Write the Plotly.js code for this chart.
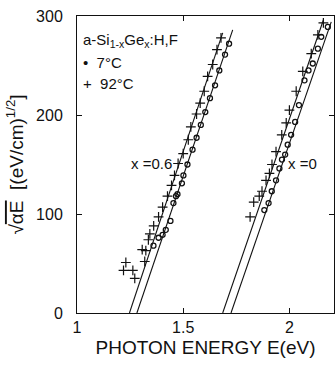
<!DOCTYPE html>
<html>
<head>
<meta charset="utf-8">
<script src="https://cdn.plot.ly/plotly-3.0.1.min.js"></script>
<style>html,body{margin:0;padding:0;background:#fff;}#chart{width:335px;height:366px;}</style>
</head>
<body>
<div id="chart"></div>
<script>
// x = 0.6, 7°C (circles)
const e06_7 = [1.360, 1.384, 1.403, 1.418, 1.440, 1.454, 1.466, 1.473, 1.494, 1.501, 1.520, 1.544, 1.563, 1.583, 1.604, 1.626, 1.650, 1.670, 1.697, 1.716];
const y06_7 = [68, 76, 79, 84, 93, 111, 118, 120, 131, 139, 150, 165, 177, 190, 203, 217, 230, 245, 261, 272];
// x = 0.6, 92°C (crosses)
const e06_92 = [1.219, 1.230, 1.263, 1.272, 1.307, 1.319, 1.324, 1.336, 1.343, 1.361, 1.384, 1.403, 1.426, 1.445, 1.459, 1.476, 1.500, 1.524, 1.536, 1.563, 1.580, 1.599, 1.615, 1.639, 1.659, 1.678];
const y06_92 = [43, 51, 43, 35, 64, 52, 63, 74, 80, 88, 97, 107, 118, 129, 139, 151, 161, 175, 188, 201, 212, 224, 239, 251, 266, 278];
// x = 0, 7°C (circles)
const e0_7 = [1.882, 1.902, 1.917, 1.937, 1.953, 1.965, 1.980, 1.992, 2.008, 2.027, 2.045, 2.071, 2.090, 2.110, 2.134, 2.150, 2.181];
const y0_7 = [104, 111, 123, 134, 146, 155, 160, 170, 180, 193, 210, 235, 245, 252, 267, 279, 289];
// x = 0, 92°C (crosses)
const e0_92 = [1.815, 1.832, 1.858, 1.871, 1.890, 1.906, 1.918, 1.937, 1.964, 1.985, 2.000, 2.032, 2.063, 2.103, 2.134, 2.160];
const y0_92 = [97, 112, 118, 123, 134, 141, 150, 163, 180, 192, 205, 224, 244, 262, 281, 293];
// linear fits (end points)
const fit06_92E = [1.247, 1.686], fit06_92Y = [0, 283];
const fit06_7E = [1.282, 1.733], fit06_7Y = [0, 286];
const fit0_92E = [1.686, 2.160], fit0_92Y = [0, 296];
const fit0_7E = [1.725, 2.197], fit0_7Y = [0, 294];
// ticks
const xTickVals = [1, 1.5, 2];
const xTickText = ['1', '1.5', '2'];
const yTickVals = [0, 100, 200, 300];
const yTickText = ['0', '100', '200', '300'];

const FONT = 'Liberation Sans, Arial, sans-serif';
const circ = {symbol: 'circle-open', size: 5, color: '#111', line: {width: 1.3, color: '#111'}};
const crs = {symbol: 'cross-thin-open', size: 7, color: '#111', line: {width: 1.2, color: '#111'}};
const ln = {color: '#111', width: 1.1};

const traces = [
  {x: fit06_92E, y: fit06_92Y, mode: 'lines', line: ln},
  {x: fit06_7E, y: fit06_7Y, mode: 'lines', line: ln},
  {x: fit0_92E, y: fit0_92Y, mode: 'lines', line: ln},
  {x: fit0_7E, y: fit0_7Y, mode: 'lines', line: ln},
  {x: e06_7, y: y06_7, mode: 'markers', marker: circ},
  {x: e06_92, y: y06_92, mode: 'markers', marker: crs},
  {x: e0_7, y: y0_7, mode: 'markers', marker: circ},
  {x: e0_92, y: y0_92, mode: 'markers', marker: crs}
].map(t => Object.assign({type: 'scatter', showlegend: false, hoverinfo: 'skip', cliponaxis: true}, t));

const layout = {
  width: 335, height: 366,
  margin: {l: 77, r: 1, t: 16, b: 53},
  paper_bgcolor: '#fff', plot_bgcolor: '#fff',
  font: {family: FONT, color: '#111', size: 16},
  showlegend: false,
  xaxis: {
    range: [1, 2.21], tickvals: xTickVals, ticktext: xTickText,
    ticks: 'inside', ticklen: 5, tickcolor: '#111', showline: true, linecolor: '#111', linewidth: 1,
    mirror: 'ticks', showgrid: false, zeroline: false, tickfont: {size: 16},
    title: {text: 'PHOTON ENERGY E(eV)', font: {size: 19}, standoff: 5}
  },
  yaxis: {
    range: [0, 300], tickvals: yTickVals, ticktext: yTickText,
    ticks: 'inside', ticklen: 5, tickcolor: '#111', showline: true, linecolor: '#111', linewidth: 1,
    mirror: 'ticks', showgrid: false, zeroline: false, tickfont: {size: 16}, ticklabelstandoff: 10,
    title: {text: '√<span style="text-decoration:overline">αE</span>  [(eV/cm)<sup>1/2</sup>]', font: {size: 19}, standoff: 7}
  },
  annotations: [
    {xref: 'paper', yref: 'paper', x: 0.016, y: 0.919, xanchor: 'left', yanchor: 'middle', showarrow: false,
     text: 'a-Si<sub>1-x</sub>Ge<sub>x</sub>:H,F', font: {size: 15}},
    {xref: 'paper', yref: 'paper', x: 0.016, y: 0.843, xanchor: 'left', yanchor: 'middle', showarrow: false,
     text: '•  7°C', font: {size: 15}},
    {xref: 'paper', yref: 'paper', x: 0.016, y: 0.772, xanchor: 'left', yanchor: 'middle', showarrow: false,
     text: '+  92°C', font: {size: 15}},
    {xref: 'x', yref: 'y', x: 1.352, y: 151, showarrow: false, text: 'x =0.6', font: {size: 15}},
    {xref: 'x', yref: 'y', x: 2.06, y: 151, showarrow: false, text: 'x =0', font: {size: 15}}
  ]
};

Plotly.newPlot('chart', traces, layout, {staticPlot: true, displayModeBar: false});
</script>
</body>
</html>
